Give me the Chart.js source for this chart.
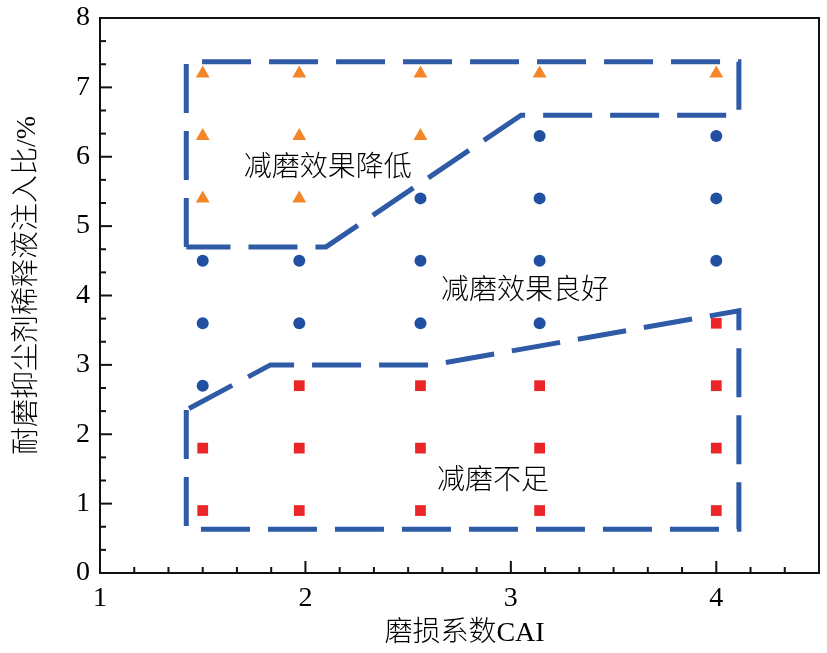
<!DOCTYPE html>
<html><head><meta charset="utf-8">
<script src="https://cdn.jsdelivr.net/npm/chart.js@4.4.0/dist/chart.umd.min.js"></script>
<style>html,body{margin:0;padding:0;background:#fff}#wrap{width:827px;height:653px}</style>
</head><body><div id="wrap"><canvas id="c" width="827" height="653"></canvas></div>
<script>
const cai = [1.5, 1.97, 2.56, 3.14, 4.0];
const lowEffectY = [[5.4,6.3,7.2],[5.4,6.3,7.2],[6.3,7.2],[7.2],[7.2]];
const goodEffectY = [[2.7,3.6,4.5],[3.6,4.5],[3.6,4.5,5.4],[3.6,4.5,5.4,6.3],[4.5,5.4,6.3]];
const lackEffectY = [[0.9,1.8],[0.9,1.8,2.7],[0.9,1.8,2.7],[0.9,1.8,2.7],[0.9,1.8,2.7,3.6]];
const upperBoundX = [1.42,1.42,4.11,4.11,3.05,2.1,1.42];
const upperBoundY = [4.7,7.37,7.37,6.6,6.6,4.7,4.7];
const lowerBoundX = [1.42,1.42,4.11,4.11,2.62,1.83,1.42];
const lowerBoundY = [2.35,0.63,0.63,3.78,3.0,3.0,2.35];
const xTickValues = [1,2,3,4];
const yTickValues = [0,1,2,3,4,5,6,7,8];
const regionLabels = ['减磨效果降低','减磨效果良好','减磨不足'];
const regionLabelX = [1.70,2.66,2.64];
const regionLabelY = [5.88,4.11,1.37];
const xTitle = '磨损系数CAI';
const yTitle = '耐磨抑尘剂稀释液注入比/%';

function pts(ys){ const out=[]; ys.forEach((col,i)=>col.forEach(v=>out.push({x:cai[i],y:v}))); return out; }
function path(xs,ys){ return xs.map((v,i)=>({x:v,y:ys[i]})); }

const CJK = '"Liberation Serif","Noto Sans CJK SC",serif';
const LINE_BLUE = '#2E5AA6';

const decor = {
  id:'decor',
  afterDatasetsDraw(chart){
    const {ctx, chartArea:a, scales:{x,y}} = chart;
    ctx.save();
    ctx.strokeStyle='#111'; ctx.lineWidth=2;
    ctx.strokeRect(a.left, a.top, a.right-a.left, a.bottom-a.top);
    for (let k=0;k<=30;k++){
      const v = 1 + k/6; if (v > 4.5 + 1e-9) break;
      const px = x.getPixelForValue(v);
      const major = xTickValues.some(t=>Math.abs(t-v)<1e-6);
      ctx.beginPath(); ctx.moveTo(px,a.bottom); ctx.lineTo(px,a.bottom-(major?12:6)); ctx.stroke();
    }
    for (let k=0;k<=30;k++){
      const v = k/3; if (v > 8 + 1e-9) break;
      const py = y.getPixelForValue(v);
      const major = yTickValues.some(t=>Math.abs(t-v)<1e-6);
      ctx.beginPath(); ctx.moveTo(a.left,py); ctx.lineTo(a.left+(major?12:6),py); ctx.stroke();
    }
    ctx.fillStyle='#000';
    ctx.font = '300 28px "Noto Sans CJK SC"';
    ctx.textAlign='left'; ctx.textBaseline='middle';
    regionLabels.forEach((t,i)=>ctx.fillText(t, x.getPixelForValue(regionLabelX[i]), y.getPixelForValue(regionLabelY[i])));
    ctx.font = '300 28px ' + CJK;
    ctx.textAlign='center';
    ctx.fillText(xTitle, (a.left+a.right)/2 + 5, 634);
    ctx.translate(28, (a.top+a.bottom)/2 - 10);
    ctx.rotate(-Math.PI/2);
    ctx.fillText(yTitle, 0, 0);
    ctx.restore();
  }
};

new Chart(document.getElementById('c'), {
  type:'scatter',
  data:{ datasets:[
    {data:path(upperBoundX,upperBoundY), showLine:true, borderColor:LINE_BLUE, borderWidth:5, borderDash:[49,18], pointRadius:0, fill:false, order:0},
    {data:path(lowerBoundX,lowerBoundY), showLine:true, borderColor:LINE_BLUE, borderWidth:5, borderDash:[49,18], pointRadius:0, fill:false, order:0},
    {data:pts(lowEffectY), pointStyle:'triangle', radius:8, backgroundColor:'#F4862A', borderColor:'#F4862A', borderWidth:0, order:1},
    {data:pts(goodEffectY), pointStyle:'circle', radius:6, backgroundColor:'#2150A3', borderColor:'#2150A3', borderWidth:0, order:1},
    {data:pts(lackEffectY), pointStyle:'rect', radius:7.6, backgroundColor:'#EC2528', borderColor:'#EC2528', borderWidth:0, order:1}
  ]},
  options:{
    responsive:false, animation:false, devicePixelRatio:1,
    layout:{padding:{top:18,right:5,left:0,bottom:0}},
    plugins:{legend:{display:false}, tooltip:{enabled:false}},
    scales:{
      x:{type:'linear', min:1, max:4.5,
        afterBuildTicks(s){ s.ticks = xTickValues.map(v=>({value:v})); },
        afterFit(s){ s.height = 80; s.paddingLeft = 0; s.paddingRight = 0; },
        grid:{display:false, drawTicks:false}, border:{display:false},
        ticks:{padding:9, color:'#000', font:{family:'"Liberation Serif",serif', size:28}}},
      y:{type:'linear', min:0, max:8,
        afterBuildTicks(s){ s.ticks = yTickValues.map(v=>({value:v})); },
        afterFit(s){ s.width = 100; s.paddingTop = 0; s.paddingBottom = 0; },
        grid:{display:false, drawTicks:false}, border:{display:false},
        ticks:{padding:10, color:'#000', font:{family:'"Liberation Serif",serif', size:28}}}
    }
  },
  plugins:[decor]
});
</script></body></html>
